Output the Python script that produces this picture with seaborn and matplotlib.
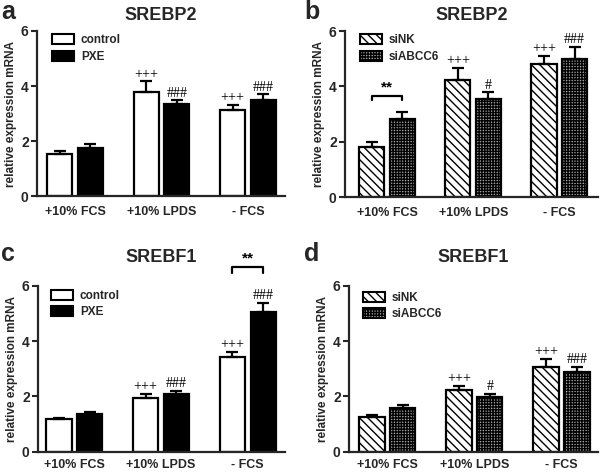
import matplotlib
matplotlib.use("Agg")
import matplotlib.pyplot as plt
import seaborn as sns
import pandas as pd
import numpy as np
from matplotlib.patches import Patch

sns.set_style("ticks")
plt.rcParams['font.family'] = ['Liberation Sans', 'DejaVu Sans']
plt.rcParams['hatch.linewidth'] = 1.0

W, H = 600, 473

conditions = ["+10% FCS", "+10% LPDS", "- FCS"]

# Panel a: SREBP2 control vs PXE
a_control = [1.55, 3.79, 3.15]
a_control_err = [0.10, 0.39, 0.18]
a_pxe = [1.76, 3.36, 3.49]
a_pxe_err = [0.13, 0.13, 0.22]

# Panel b: SREBP2 siNK vs siABCC6
b_sink = [1.79, 4.23, 4.79]
b_sink_err = [0.20, 0.44, 0.32]
b_siabcc6 = [2.81, 3.53, 4.98]
b_siabcc6_err = [0.25, 0.26, 0.45]

# Panel c: SREBF1 control vs PXE
c_control = [1.17, 1.93, 3.42]
c_control_err = [0.05, 0.15, 0.19]
c_pxe = [1.36, 2.08, 5.04]
c_pxe_err = [0.06, 0.12, 0.35]

# Panel d: SREBF1 siNK vs siABCC6
d_sink = [1.27, 2.22, 3.07]
d_sink_err = [0.07, 0.17, 0.28]
d_siabcc6 = [1.57, 1.96, 2.87]
d_siabcc6_err = [0.13, 0.14, 0.19]

# significance marks (per condition, per series)
a_marks = [["", ""], ["+++", "###"], ["+++", "###"]]
b_marks = [["", ""], ["+++", "#"], ["+++", "###"]]
c_marks = [["", ""], ["+++", "###"], ["+++", "###"]]
d_marks = [["", ""], ["+++", "#"], ["+++", "###"]]

fig = plt.figure(figsize=(W / 100, H / 100), dpi=100)


def rect(l, r, t, b):
    return [l / W, 1 - b / H, (r - l) / W, (b - t) / H]


panels = [
    dict(letter="a", title="SREBP2", series=("control", "PXE"), vals=(a_control, a_pxe),
         errs=(a_control_err, a_pxe_err), marks=a_marks, kind="solid",
         rect=rect(37, 285, 31, 196.5), xlim=(-0.44, 2.43),
         bracket=None, legend_xy=(15, 3), title_y=15, letter_xy=(1, 0), xpad=7),
    dict(letter="b", title="SREBP2", series=("siNK", "siABCC6"), vals=(b_sink, b_siabcc6),
         errs=(b_sink_err, b_siabcc6_err), marks=b_marks, kind="hatch",
         rect=rect(345, 598, 31, 197), xlim=(-0.49, 2.45),
         bracket=(0, 3.66, 3.52), legend_xy=(15, 3), title_y=15, letter_xy=(304, 0), xpad=7),
    dict(letter="c", title="SREBF1", series=("control", "PXE"), vals=(c_control, c_pxe),
         errs=(c_control_err, c_pxe_err), marks=c_marks, kind="solid",
         rect=rect(38, 285, 285.7, 451.7), xlim=(-0.42, 2.43),
         bracket=(2, 6.69, 6.45), legend_xy=(13, 4), title_y=257, letter_xy=(1, 242), xpad=5),
    dict(letter="d", title="SREBF1", series=("siNK", "siABCC6"), vals=(d_sink, d_siabcc6),
         errs=(d_sink_err, d_siabcc6_err), marks=d_marks, kind="hatch",
         rect=rect(349, 598, 285.7, 451.7), xlim=(-0.44, 2.42),
         bracket=None, legend_xy=(14, 6), title_y=257, letter_xy=(304, 242), xpad=5),
]

HATCH1 = "\\\\\\\\"
HATCH2 = "++++++"
GREY = "#a8a8a8"

for p in panels:
    ax = fig.add_axes(p["rect"])
    s1, s2 = p["series"]
    df = pd.DataFrame({
        "cond": conditions * 2,
        "series": [s1] * 3 + [s2] * 3,
        "value": list(p["vals"][0]) + list(p["vals"][1]),
    })
    if p["kind"] == "solid":
        pal = {s1: "white", s2: "black"}
    else:
        pal = {s1: "white", s2: GREY}
    sns.barplot(data=df, x="cond", y="value", hue="series", order=conditions,
                hue_order=[s1, s2], palette=pal, width=0.71, gap=0.18,
                errorbar=None, edgecolor="black", linewidth=1.6, legend=False,
                saturation=1, ax=ax)
    bars = [b for b in ax.patches]
    for k, b in enumerate(bars):
        si = k // 3
        ci = k % 3
        if p["kind"] == "hatch":
            b.set_hatch(HATCH1 if si == 0 else HATCH2)
        x = b.get_x() + b.get_width() / 2
        h = b.get_height()
        e = p["errs"][si][ci]
        ax.errorbar([x], [h], yerr=[[0], [e]], fmt="none", ecolor="black",
                    elinewidth=1.6, capsize=4.5, capthick=1.6, zorder=1)
        m = p["marks"][ci][si]
        if m:
            ax.text(x, h + e + 0.02, m, ha="center", va="bottom",
                    fontsize=10, family="Liberation Serif", color="black")
    if p["bracket"] is not None:
        ci, ytop, ybot = p["bracket"]
        b1 = bars[ci]
        b2 = bars[3 + ci]
        x1 = b1.get_x() + b1.get_width() / 2
        x2 = b2.get_x() + b2.get_width() / 2
        ax.plot([x1, x1, x2, x2], [ybot, ytop, ytop, ybot], color="black",
                lw=1.6, clip_on=False)
        ax.text((x1 + x2) / 2, ytop + 0.03, "**", ha="center", va="bottom",
                fontsize=11, fontweight="bold", color="black")

    ax.set_ylim(0, 6)
    ax.set_xlim(*p["xlim"])
    ax.set_yticks([0, 2, 4, 6])
    ax.tick_params(axis="y", labelsize=10, width=1.5, length=4, pad=2)
    ax.tick_params(axis="x", labelsize=9, length=0, pad=p["xpad"])
    for lab in ax.get_yticklabels() + ax.get_xticklabels():
        lab.set_fontweight("bold")
    ax.set_xlabel("")
    ax.set_ylabel("relative expression mRNA", fontsize=8.5, fontweight="bold", labelpad=3)
    sns.despine(ax=ax)
    for sp in ("left", "bottom"):
        ax.spines[sp].set_linewidth(1.6)

    if p["kind"] == "solid":
        handles = [Patch(facecolor="white", edgecolor="black", linewidth=1.5, label=s1),
                   Patch(facecolor="black", edgecolor="black", linewidth=1.5, label=s2)]
    else:
        handles = [Patch(facecolor="white", edgecolor="black", linewidth=1.5, hatch=HATCH1, label=s1),
                   Patch(facecolor=GREY, edgecolor="black", linewidth=1.5, hatch=HATCH2, label=s2)]
    r = p["rect"]
    axw, axh = r[2] * W, r[3] * H
    lx, ly = p["legend_xy"]
    ax.legend(handles=handles, loc="upper left",
              bbox_to_anchor=(lx / axw, 1 - ly / axh),
              frameon=False, prop={"weight": "bold", "size": 8.5},
              handlelength=1.9, handleheight=0.9, handletextpad=0.55,
              labelspacing=0.4, borderaxespad=0, borderpad=0)

    pos = ax.get_position()
    fig.text((pos.x0 + pos.x1) / 2, 1 - p["title_y"] / H, p["title"], ha="center",
             va="center", fontsize=13, fontweight="bold")
    lx0, ly0 = p["letter_xy"]
    fig.text(lx0 / W, 1 - ly0 / H, p["letter"], ha="left", va="top",
             fontsize=18, fontweight="bold")

fig.savefig("out.png", dpi=100)
